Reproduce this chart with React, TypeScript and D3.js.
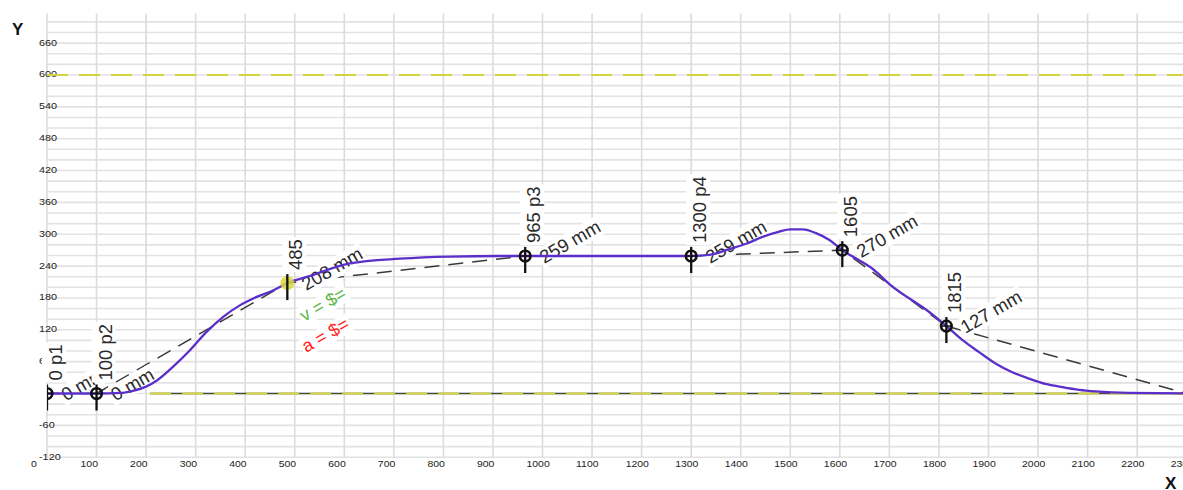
import React, { useEffect, useRef } from 'react';
import * as d3 from 'd3';

const W = 1183;
const H = 490;
const FONT = '"Liberation Sans", Arial, sans-serif';

// key points
const pointX = [0, 100, 485, 965, 1300, 1605, 1815];
const pointY = [0, 0, 208, 259, 259, 270, 127];
const pointName = ['p1', 'p2', '', 'p3', 'p4', '', ''];
const highlightIndex = 2;

// dashed target polyline (points + end)
const targetX = [0, 100, 485, 965, 1300, 1605, 1815, 2300];
const targetY = [0, 0, 208, 259, 259, 270, 127, 0];

// smooth motion curve
const curveX = [0, 100, 150, 173, 200, 221, 254, 288, 322, 355, 389, 423, 456, 485, 526, 611, 712, 812, 913, 965, 1300, 1337, 1377, 1411, 1444, 1478, 1500, 1525, 1552, 1579, 1605, 1639, 1666, 1700, 1781, 1815, 1847, 1881, 1915, 1948, 1982, 2015, 2049, 2083, 2116, 2183, 2300];
const curveY = [0, 0, 1, 5, 13, 24, 50, 81, 116, 144, 166, 182, 194, 208, 220, 245, 254, 258, 259, 259, 259, 261, 272, 282, 295, 305, 309, 309, 302, 289, 270, 251, 235, 206, 153, 127, 101, 78, 56, 40, 28, 18, 12, 7, 4, 1, 0];

// ticks
const xTickValues = [0, 100, 200, 300, 400, 500, 600, 700, 800, 900, 1000, 1100, 1200, 1300, 1400, 1500, 1600, 1700, 1800, 1900, 2000, 2100, 2200, 2300];
const yTickValues = [-120, -60, 60, 120, 180, 240, 300, 360, 420, 480, 540, 600, 660];
const limitValues = [600, 0];

const velocityText = 'v = $=';
const accelText = 'a = $=';

export default function App() {
  const ref = useRef<SVGSVGElement>(null);

  useEffect(() => {
    const svg = d3.select(ref.current);
    svg.selectAll('*').remove();

    const left = 47;
    const top = 13.4;
    const bottom = 457.2;
    const x = d3.scaleLinear().domain([0, 2300]).range([left, 1186.7]);
    const y = d3.scaleLinear().domain([-120, 716]).range([bottom, top]);

    const defs = svg.append('defs');
    defs.append('clipPath').attr('id', 'plotclip')
      .append('rect').attr('x', left).attr('y', 0).attr('width', W - left).attr('height', H);

    // grid
    const grid = svg.append('g');
    d3.range(-120, 717, 20).forEach((v) => {
      grid.append('line').attr('x1', left).attr('x2', W).attr('y1', y(v)).attr('y2', y(v))
        .attr('stroke', '#e2e2e2').attr('stroke-width', 1.6);
    });
    xTickValues.forEach((v) => {
      grid.append('line').attr('x1', x(v)).attr('x2', x(v)).attr('y1', top).attr('y2', bottom)
        .attr('stroke', '#dcdcdc').attr('stroke-width', 1.6);
    });

    // tick labels
    const ticks = svg.append('g').attr('font-family', FONT).attr('font-size', 8.7).attr('fill', '#222');
    xTickValues.forEach((v) => {
      ticks.append('g').attr('transform', `translate(${x(v) - 16},466.5) scale(1.2,1)`)
        .append('text').text(String(v));
    });
    yTickValues.forEach((v) => {
      ticks.append('g').attr('transform', `translate(39,${y(v) + 2.5}) scale(1.25,1)`)
        .append('text').text(String(v));
    });

    // axis names
    svg.append('text').attr('x', 12).attr('y', 35).attr('font-family', FONT).attr('font-weight', 'bold')
      .attr('font-size', 17).attr('fill', '#111').text('Y');
    svg.append('text').attr('x', 1165).attr('y', 489).attr('font-family', FONT).attr('font-weight', 'bold')
      .attr('font-size', 17).attr('fill', '#111').text('X');

    // limit lines
    const lim = svg.append('g');
    lim.append('line').attr('x1', x(208)).attr('x2', W).attr('y1', y(limitValues[1])).attr('y2', y(limitValues[1]))
      .attr('stroke', '#4a4a3a').attr('stroke-width', 1.6);
    limitValues.forEach((v, i) => {
      lim.append('line').attr('x1', i === 0 ? left : x(208)).attr('x2', W).attr('y1', y(v)).attr('y2', y(v))
        .attr('stroke', '#d3d340').attr('stroke-width', 2).attr('stroke-dasharray', '21,11');
    });

    // dashed target line
    const line = d3.line<number>().x((_, i) => x(targetX[i])).y((_, i) => y(targetY[i]));
    svg.append('path').attr('d', line(targetX)).attr('fill', 'none').attr('stroke', '#3a3a3a')
      .attr('stroke-width', 1.5).attr('stroke-dasharray', '15,9').attr('clip-path', 'url(#plotclip)');

    // labels with white backgrounds
    const labels = svg.append('g');
    const addLabel = (tx: number, ty: number, angle: number, text: string, color: string, size: number, padUp = 0) => {
      const g = labels.append('g').attr('transform', `translate(${tx},${ty}) rotate(${angle})`);
      const rect = g.append('rect').attr('fill', '#fff');
      const t = g.append('text').attr('font-family', FONT).attr('font-size', size).attr('fill', color)
        .style('white-space', 'pre').text(text);
      const bb = (t.node() as SVGTextElement).getBBox();
      rect.attr('x', bb.x - 2).attr('y', bb.y + 1 - padUp).attr('width', bb.width + 4).attr('height', bb.height - 1 + padUp);
    };
    pointX.forEach((px, i) => {
      const mx = x(px);
      const my = y(pointY[i]);
      const name = pointName[i] ? `${px} ${pointName[i]}` : `${px}`;
      addLabel(mx + 15, my - 13, -90, name, '#2a2a2a', 18.5, 4);
      addLabel(mx + 19, my + 8, -30, `${pointY[i]} mm`, '#2a2a2a', 18.5);
      if (i === highlightIndex) {
        addLabel(mx + 17, my + 39, -30, velocityText, '#5cb848', 18);
        addLabel(mx + 19, my + 70, -30, accelText, '#ff2222', 18);
      }
    });

    // motion curve
    const curve = d3.line<number>().x((_, i) => x(curveX[i])).y((_, i) => y(curveY[i])).curve(d3.curveMonotoneX);
    svg.append('path').attr('d', curve(curveX)).attr('fill', 'none').attr('stroke', '#5b2fc9')
      .attr('stroke-width', 2.3).attr('clip-path', 'url(#plotclip)');

    // markers
    const mk = svg.append('g').attr('clip-path', 'url(#plotclip)');
    pointX.forEach((px, i) => {
      const mx = x(px);
      const my = y(pointY[i]);
      if (i === highlightIndex) {
        mk.append('circle').attr('cx', mx).attr('cy', my).attr('r', 7).attr('fill', '#d8d83c').attr('opacity', 0.85);
      } else {
        mk.append('circle').attr('cx', mx).attr('cy', my).attr('r', 5.3).attr('fill', 'none')
          .attr('stroke', '#111').attr('stroke-width', 2.6);
        mk.append('line').attr('x1', mx - 5).attr('x2', mx + 5).attr('y1', my).attr('y2', my)
          .attr('stroke', '#111').attr('stroke-width', 1.5);
      }
      mk.append('line').attr('x1', mx).attr('x2', mx).attr('y1', my - 9).attr('y2', my + 17)
        .attr('stroke', '#111').attr('stroke-width', 2.3);
    });
  }, []);

  return (
    <svg ref={ref} width={W} height={H}
      style={{ position: 'absolute', left: 0, top: 0, background: '#fff', display: 'block' }} />
  );
}
